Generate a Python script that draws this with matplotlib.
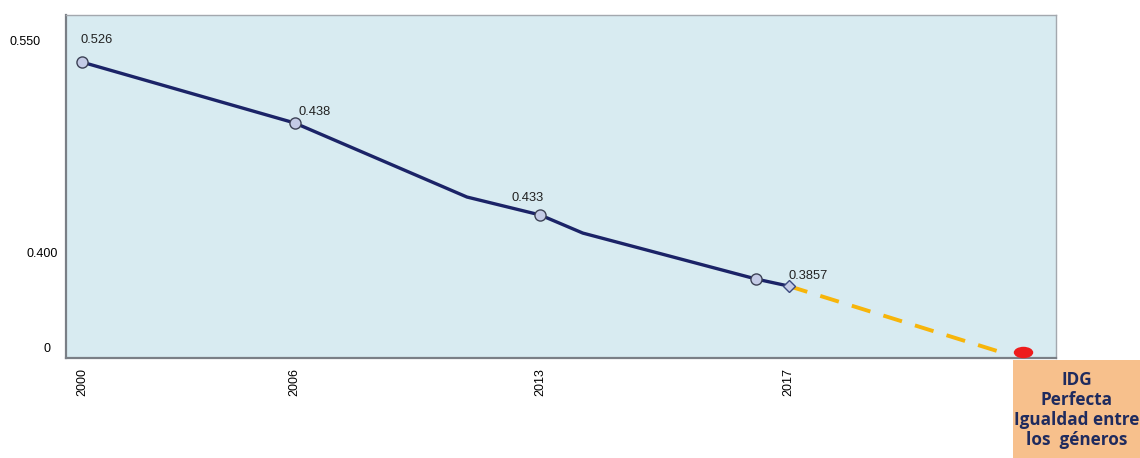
import matplotlib
matplotlib.use("Agg")
import matplotlib.pyplot as plt
import matplotlib.transforms as mtransforms
from matplotlib.patches import Rectangle
from matplotlib.path import Path

# chart is not drawn to scale: values below are the levels as they sit on the axis
year_labels = ["2000", "2006", "2013", "2017"]
year_pos = [1.6, 23.1, 47.9, 73.0]

# solid path (incl. the two bends of the smoothed line)
path_x = [1.6, 23.1, 40.5, 47.9, 52.2, 69.7, 73.0]
path_y = [0.5344, 0.4913, 0.4389, 0.4262, 0.4134, 0.3809, 0.3759]

# marked points
pt_x = [1.6, 23.1, 47.9, 69.7]
pt_y = [0.5344, 0.4913, 0.4262, 0.3809]
last_x, last_y = 73.0, 0.3759

value_labels = ["0.526", "0.438", "0.433", "0.3857"]
label_x = [1.5, 23.5, 45.0, 73.0]
label_y = [0.5500, 0.4990, 0.4380, 0.3830]

# projection to perfect equality
proj_x = [73.0, 94.4]
proj_y = [0.3759, 0.3292]
goal_x, goal_y = 96.7, 0.3292

ytick_pos = [0.5500, 0.4000, 0.3321]
ytick_labels = ["0.550", "0.400", "0"]
ytick_shift = [-14, 3, -4]   # px, labels are staggered in the original

fig = plt.figure(figsize=(11.4, 4.58), dpi=100)
ax = fig.add_axes([66 / 1140, 1 - 358 / 458, 990 / 1140, 343 / 458])
ax.set_facecolor("#d8ebf1")
ax.set_xlim(0, 100)
ax.set_ylim(0.3250, 0.5677)

ax.plot(proj_x, proj_y, color="#f7b50a", lw=2.8, dashes=(5, 3.5), zorder=2)
ax.plot(path_x, path_y, color="#1b2367", lw=2.4, zorder=3, solid_capstyle="round",
        solid_joinstyle="round")
ax.plot(pt_x, pt_y, "o", ms=8, mfc="#c4cbe6", mec="#3c4155", mew=1.0, zorder=4)
ax.plot(last_x, last_y, "D", ms=6, mfc="#c4cbe6", mec="#3c4a80", mew=1.0, zorder=4)

ellipse = Path.unit_circle().transformed(mtransforms.Affine2D().scale(1.7, 1.0))
ax.plot(goal_x, goal_y, marker=ellipse, ms=14, color="#ee1c1c", zorder=4,
        markeredgewidth=0, linestyle="none")

for x, y, s in zip(label_x, label_y, value_labels):
    ax.text(x, y, s, fontsize=9.3, color="#222222", family="Liberation Sans",
            ha="left", va="center")

ax.set_xticks(year_pos, year_labels, rotation=90, fontsize=9, family="Liberation Sans")
ax.set_yticks(ytick_pos, ytick_labels, fontsize=9, family="Liberation Sans")
ax.tick_params(length=0)
ax.tick_params(axis="y", pad=8)
ax.tick_params(axis="x", pad=7)
for lab, dx in zip(ax.get_yticklabels(), ytick_shift):
    lab.set_transform(lab.get_transform() +
                      mtransforms.ScaledTranslation(dx / 100, 0, fig.dpi_scale_trans))

for side in ["left", "bottom"]:
    ax.spines[side].set_color("#7a7f86")
    ax.spines[side].set_linewidth(1.6)
for side in ["top", "right"]:
    ax.spines[side].set_color("#a3a8ae")
    ax.spines[side].set_linewidth(1.0)

# goal box under the red point
fig.patches.append(Rectangle((1013 / 1140, 0), 127 / 1140, 98 / 458,
                             transform=fig.transFigure, facecolor="#f7c08c",
                             edgecolor="none"))
fig.text(1077 / 1140, 48 / 458, "IDG\nPerfecta\nIgualdad entre\nlos  géneros",
         ha="center", va="center", fontsize=12.3, fontweight="bold",
         color="#1f2b5e", family="Open Sans", linespacing=1.15)

fig.savefig("out.png", dpi=100)
